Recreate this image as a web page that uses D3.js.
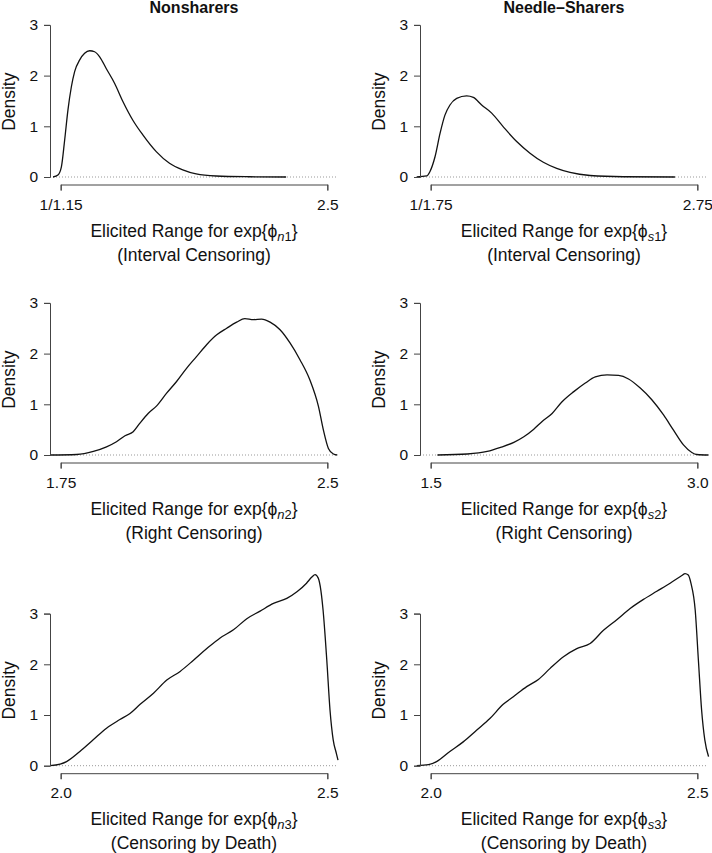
<!DOCTYPE html>
<html>
<head>
<meta charset="utf-8">
<script src="https://cdn.jsdelivr.net/npm/d3@7/dist/d3.min.js"></script>
<style>
  body { margin: 0; background: #fff; }
  svg text { font-family: "Liberation Sans", Arial, Helvetica, sans-serif; fill: #111; }
</style>
</head>
<body>
<script>
// column titles
var groups = ["Nonsharers", "Needle\u2013Sharers"];

// row subtitles
var censoring = ["(Interval Censoring)", "(Right Censoring)", "(Censoring by Death)"];

// x tick values and labels for each panel (row major, nonsharers first)
var xTicks = [[1 / 1.15, 2.5], [1 / 1.75, 2.75], [1.75, 2.5], [1.5, 3.0], [2.0, 2.5], [2.0, 2.5]];
var xTickLabels = [["1/1.15", "2.5"], ["1/1.75", "2.75"], ["1.75", "2.5"], ["1.5", "3.0"], ["2.0", "2.5"], ["2.0", "2.5"]];
var yTicks = [0, 1, 2, 3];

// density curves
var n1X = [0.823, 0.853, 0.874, 0.894, 0.914, 0.935, 0.955, 0.986, 1.016, 1.047, 1.077, 1.108, 1.148, 1.199, 1.250, 1.311, 1.372, 1.454, 1.535, 1.616, 1.698, 1.820, 2.024, 2.248];
var n1Y = [0, 0.04, 0.20, 0.73, 1.32, 1.78, 2.08, 2.31, 2.44, 2.49, 2.47, 2.37, 2.14, 1.85, 1.49, 1.12, 0.83, 0.50, 0.27, 0.14, 0.06, 0.02, 0.005, 0];

var s1X = [0.457, 0.539, 0.566, 0.607, 0.648, 0.688, 0.729, 0.784, 0.865, 0.920, 0.988, 1.070, 1.165, 1.274, 1.383, 1.492, 1.601, 1.710, 1.873, 2.146, 2.567];
var s1Y = [0, 0.02, 0.11, 0.40, 0.86, 1.22, 1.42, 1.55, 1.60, 1.57, 1.42, 1.26, 0.99, 0.70, 0.47, 0.29, 0.17, 0.09, 0.03, 0.005, 0];

var n2X = [1.720, 1.795, 1.842, 1.879, 1.907, 1.931, 1.954, 1.973, 1.996, 2.020, 2.048, 2.076, 2.104, 2.132, 2.161, 2.189, 2.217, 2.245, 2.268, 2.292, 2.315, 2.339, 2.367, 2.395, 2.423, 2.451, 2.475, 2.489, 2.503, 2.517, 2.528];
var n2Y = [0, 0.01, 0.07, 0.16, 0.26, 0.38, 0.46, 0.63, 0.82, 0.97, 1.22, 1.45, 1.71, 1.94, 2.18, 2.37, 2.50, 2.62, 2.69, 2.67, 2.68, 2.62, 2.47, 2.21, 1.88, 1.48, 0.96, 0.49, 0.13, 0.02, 0];

var s2X = [1.538, 1.706, 1.818, 1.893, 1.968, 2.024, 2.080, 2.127, 2.183, 2.239, 2.305, 2.370, 2.426, 2.492, 2.557, 2.613, 2.679, 2.744, 2.810, 2.866, 2.922, 2.969, 2.997, 3.063];
var s2Y = [0, 0.02, 0.07, 0.15, 0.25, 0.36, 0.51, 0.66, 0.82, 1.05, 1.25, 1.42, 1.54, 1.58, 1.57, 1.50, 1.32, 1.09, 0.79, 0.49, 0.20, 0.05, 0.01, 0];

var n3X = [1.980, 1.999, 2.011, 2.036, 2.061, 2.086, 2.111, 2.130, 2.149, 2.174, 2.199, 2.224, 2.249, 2.274, 2.299, 2.324, 2.349, 2.374, 2.399, 2.424, 2.443, 2.461, 2.471, 2.477, 2.483, 2.488, 2.492, 2.499, 2.505, 2.511, 2.517, 2.520];
var n3Y = [0, 0.03, 0.08, 0.28, 0.51, 0.74, 0.91, 1.03, 1.21, 1.43, 1.69, 1.86, 2.08, 2.31, 2.52, 2.68, 2.90, 3.05, 3.20, 3.30, 3.43, 3.60, 3.72, 3.77, 3.70, 3.45, 3.07, 2.08, 1.10, 0.51, 0.24, 0.11];

var s3X = [1.974, 1.996, 2.011, 2.036, 2.061, 2.086, 2.111, 2.136, 2.155, 2.180, 2.202, 2.224, 2.249, 2.274, 2.299, 2.324, 2.349, 2.374, 2.399, 2.424, 2.449, 2.471, 2.477, 2.483, 2.488, 2.496, 2.502, 2.508, 2.514, 2.521];
var s3Y = [0, 0.02, 0.08, 0.28, 0.47, 0.70, 0.93, 1.21, 1.36, 1.56, 1.70, 1.92, 2.15, 2.31, 2.41, 2.67, 2.88, 3.10, 3.28, 3.44, 3.60, 3.75, 3.79, 3.76, 3.60, 3.07, 2.08, 1.10, 0.51, 0.18];

var curvesX = [n1X, s1X, n2X, s2X, n3X, s3X];
var curvesY = [n1Y, s1Y, n2Y, s2Y, n3Y, s3Y];
var subs = [["n", "1"], ["s", "1"], ["n", "2"], ["s", "2"], ["n", "3"], ["s", "3"]];

// layout
var w = 712, h = 853;
var colLeft = [50, 420];
var plotW = 288;
var pad = plotW * 0.04 / 1.08;     // R style 4% extension
var rowZero = [177, 455, 765.7];   // pixel of density 0 per row
var pxPerUnit = 50.7;
var axisGap = 7.5;                 // x axis sits below the region

var svg = d3.select("body")
  .append("svg")
  .attr("width", w)
  .attr("height", h);

var line = d3.line().curve(d3.curveMonotoneX);

for (var p = 0; p < 6; p++) {
  var col = p % 2, row = Math.floor(p / 2);
  var left = colLeft[col];
  var x0 = rowZero[row];

  var xScale = d3.scaleLinear()
    .domain(xTicks[p])
    .range([left + pad, left + plotW - pad]);
  var yScale = d3.scaleLinear()
    .domain([0, 3])
    .range([x0, x0 - 3 * pxPerUnit]);

  var g = svg.append("g");

  // zero reference line
  g.append("line")
    .attr("x1", left).attr("x2", left + plotW)
    .attr("y1", yScale(0)).attr("y2", yScale(0))
    .attr("stroke", "#999")
    .attr("stroke-width", 1)
    .attr("stroke-dasharray", "1,2");

  // density curve
  var pts = curvesX[p].map(function(d, i) { return [xScale(d), yScale(curvesY[p][i])]; });
  g.append("path")
    .attr("d", line(pts))
    .attr("fill", "none")
    .attr("stroke", "#111")
    .attr("stroke-width", 1.3);

  // x axis
  var xAxis = d3.axisBottom(xScale)
    .tickValues(xTicks[p])
    .tickFormat(function(d, i) { return xTickLabels[p][i]; })
    .tickSizeOuter(0)
    .tickSize(6)
    .tickPadding(8);
  var xg = g.append("g")
    .attr("transform", "translate(0," + (yScale(0) + axisGap) + ")")
    .call(xAxis);
  xg.selectAll("path, line").attr("stroke", "#444");
  xg.selectAll("text").attr("font-size", "15.5px").attr("fill", "#111");

  // y axis
  var yAxis = d3.axisLeft(yScale)
    .tickValues(yTicks)
    .tickFormat(d3.format("d"))
    .tickSizeOuter(0)
    .tickSize(6)
    .tickPadding(6);
  var yg = g.append("g")
    .attr("transform", "translate(" + left + ",0)")
    .call(yAxis);
  yg.selectAll("path, line").attr("stroke", "#444");
  yg.selectAll("text").attr("font-size", "15.5px").attr("fill", "#111");

  // y label
  var midY = (yScale(0) + axisGap + yScale(3) - 6) / 2;
  g.append("text")
    .attr("transform", "translate(" + (left - 35) + "," + midY + ") rotate(-90)")
    .attr("text-anchor", "middle")
    .attr("font-size", "17.5px")
    .text("Density");

  // x label with subscript
  var cx = left + plotW / 2;
  var ax = yScale(0) + axisGap;
  var t = g.append("text")
    .attr("x", cx)
    .attr("y", ax + 52)
    .attr("text-anchor", "middle")
    .attr("font-size", "17.5px");
  t.append("tspan").text("Elicited Range for exp{\u03D5");
  t.append("tspan").attr("font-size", "13px").attr("font-style", "italic").attr("dy", 4).text(subs[p][0]);
  t.append("tspan").attr("font-size", "13px").text(subs[p][1]);
  t.append("tspan").attr("dy", -4).text("}");

  g.append("text")
    .attr("x", cx)
    .attr("y", ax + 76)
    .attr("text-anchor", "middle")
    .attr("font-size", "17.5px")
    .text(censoring[row]);

  // column titles
  if (row === 0) {
    g.append("text")
      .attr("x", cx)
      .attr("y", 13)
      .attr("text-anchor", "middle")
      .attr("font-size", "16px")
      .attr("font-weight", "bold")
      .text(groups[col]);
  }
}
</script>
</body>
</html>
